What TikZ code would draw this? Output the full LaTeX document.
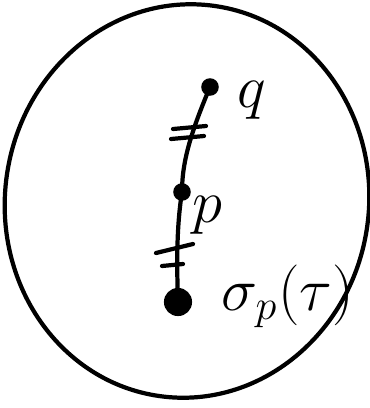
\documentclass[tikz,border=0pt]{standalone}
\usepackage{amsmath,amssymb}
\usepackage{tikz}

\tikzset{
    pt/.style={circle,fill,inner sep=0pt,minimum size=5pt},
    bigpt/.style={circle,fill,inner sep=0pt,minimum size=8pt},
    lbl/.style={font=\LARGE}
}

\begin{document}
\begin{tikzpicture}[x=0.01cm,y=-0.01cm,line width=1.2pt,line cap=round,line join=round]
    \useasboundingbox (0,0) rectangle (370,408);
    % the region
    \draw[rotate around={-8:(187,201)}] (187,201) ellipse (182 and 197);
    % points
    \node[pt] (q) at (210,87) {};
    \node[pt] (p) at (182,192) {};
    \node[bigpt] (s) at (178,302) {};
    \draw (q.center) .. controls (192,130) and (182,160) .. (p.center)
          .. controls (176,230) and (177,270) .. (s.center);
    % equal marks
    \draw (173,129) -- (206,126);
    \draw (171,139) -- (204,136);
    \draw (156,253) -- (193,244);
    \draw (162,266) -- (183,264);
    % labels
    \node[lbl] (ql) at (252,100) {$q$};
    \node[lbl] (pl) at (207,215) {$p$};
    \node[lbl,anchor=west] (sl) at (208,296) {$\sigma_p(\tau)$};
\end{tikzpicture}
\end{document}
